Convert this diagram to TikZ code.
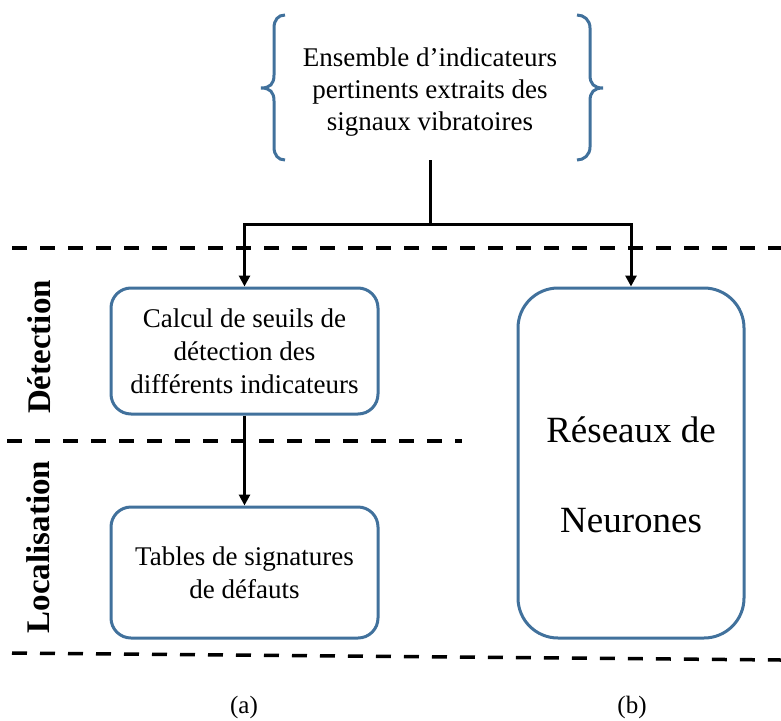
\documentclass[tikz,border=0pt]{standalone}
\usepackage{fontspec}
\setmainfont{Liberation Serif}
\usetikzlibrary{arrows.meta}
\definecolor{boxblue}{RGB}{65,113,156}
\begin{document}
\begin{tikzpicture}[x=1pt,y=-1pt,
  box/.style={draw=boxblue, line width=3pt, rounded corners=20pt, align=center,
    font=\fontsize{27}{33}\selectfont, minimum width=267pt, inner sep=0pt},
  conn/.style={line width=3pt, black},
  arr/.style={conn, -{Triangle[width=11pt,length=11pt]}},
  sepline/.style={line width=3.5pt, dash pattern=on 15pt off 13pt},
  bracepath/.style={draw=boxblue, line width=3pt},
  side/.style={rotate=90, anchor=base, font=\fontsize{33}{33}\selectfont\bfseries},
  captxt/.style={font=\fontsize{25}{25}\selectfont}]
\useasboundingbox (0,0) rectangle (781,720);

% braces
\draw[bracepath] (285,15) .. controls (278,15) and (274,20) .. (274,28) -- (274,75)
  .. controls (274,84) and (270,88) .. (261,88) .. controls (270,88) and (274,92) .. (274,101)
  -- (274,147) .. controls (274,155) and (278,160) .. (285,160);
\draw[bracepath] (577,15) .. controls (584,15) and (590,20) .. (590,28) -- (590,75)
  .. controls (590,84) and (594,88) .. (603,88) .. controls (594,88) and (590,92) .. (590,101)
  -- (590,147) .. controls (590,155) and (584,160) .. (577,160);

\node[font=\fontsize{27}{32}\selectfont, align=center, minimum height=136pt, inner sep=0pt]
  (src) at (430,92) {Ensemble d’indicateurs\\pertinents extraits des\\signaux vibratoires};

% separators
\draw[sepline] (12,248) -- (781,248);
\draw[sepline] (7,441) -- (462,441);
\draw[sepline] (12,653) -- (781,660);

% boxes
\node[box, minimum height=126pt] (calc) at (244.5,351)
  {Calcul de seuils de\\détection des\\différents indicateurs};
\node[box, minimum height=131pt] (tab) at (244.5,572.5)
  {Tables de signatures\\de défauts};
\node[box, rounded corners=40pt, minimum width=226pt, minimum height=350pt,
  label={[font=\fontsize{37}{90}\selectfont, align=center, yshift=-12pt]center:Réseaux de\\Neurones}]
  (rn) at (631,463) {};

% connectors
\coordinate (j) at (430,224);
\draw[conn] (src.south) -- (j);
\draw[arr] (j) -| (calc.north);
\draw[arr] (j) -| (rn.north);
\draw[arr] (calc.south) -- (tab.north);

% side labels
\node[side] (det) at (50,347) {Détection};
\node[side] (loc) at (49,547) {Localisation};

% captions
\node[captxt] (capa) at (244,707) {(a)};
\node[captxt] (capb) at (632,707) {(b)};
\end{tikzpicture}
\end{document}
